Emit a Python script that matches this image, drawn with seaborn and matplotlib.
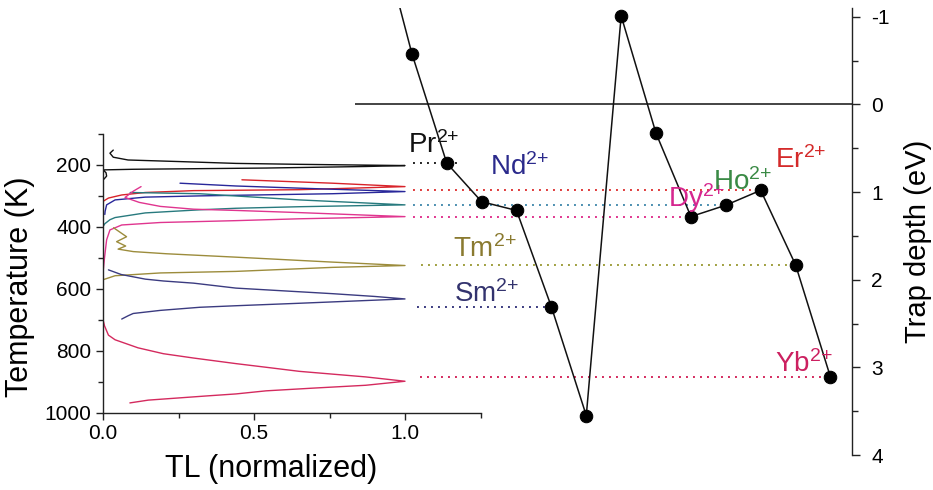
import matplotlib
matplotlib.use("Agg")
import matplotlib.pyplot as plt
from matplotlib.ticker import MultipleLocator
import seaborn as sns

sns.set_style("ticks")
plt.rcParams["font.family"] = ["Liberation Sans", "DejaVu Sans"]
plt.rcParams["mathtext.fontset"] = "custom"
plt.rcParams["mathtext.rm"] = "Liberation Sans"
plt.rcParams["mathtext.it"] = "Liberation Sans:italic"
plt.rcParams["axes.unicode_minus"] = False
plt.rcParams["text.color"] = "black"
plt.rcParams["axes.labelcolor"] = "black"

# ---- trap depths of the divalent lanthanides (eV), La .. Yb ----
ions = ["La", "Ce", "Pr", "Nd", "Pm", "Sm", "Eu", "Gd", "Tb", "Dy", "Ho", "Er", "Tm", "Yb"]
trap_depth = [-2.1, -0.58, 0.67, 1.11, 1.21, 2.31, 3.55, -1.01, 0.33, 1.28, 1.15, 0.98, 1.83, 3.11]

# ---- normalized TL glow curves (TL, temperature K) ----
pr_tl = [0.034, 0.023, 0.034, 0.083, 0.25, 0.44, 0.65, 1.0, 0.87, 0.54, 0.10, 0.0, 0.010, 0.012, 0.003, 0.0]
pr_T = [152, 162, 175, 184, 189, 195, 198, 202, 205, 210, 214, 216, 225, 236, 246, 240]

er_tl = [0.46, 0.76, 1.0, 0.65, 0.30, 0.14, 0.062, 0.018, 0.003]
er_T = [248, 259, 270, 280, 283, 289, 297, 307, 316]

nd_tl = [0.255, 0.44, 0.65, 1.0, 0.76, 0.32, 0.14, 0.04, 0.012, 0.007, 0.006]
nd_T = [259, 268, 275, 286, 293, 300, 304, 313, 329, 350, 360]

ho_tl = [0.09, 0.32, 0.65, 0.85, 1.0, 0.65, 0.44, 0.32, 0.14, 0.10, 0.04, 0.023, 0.006, 0.0]
ho_T = [289, 293, 313, 322, 329, 335, 340, 345, 355, 361, 370, 377, 390, 399]

dy_tl = [0.126, 0.10, 0.073, 0.12, 0.19, 0.30, 0.44, 0.65, 1.0, 0.65, 0.44, 0.19, 0.062, 0.023, 0.012, 0.005, 0.0, 0.0]
dy_T = [270, 285, 305, 321, 334, 343, 347, 354, 367, 374, 380, 386, 394, 410, 442, 500, 549, 600]

tm_tl = [0.035, 0.078, 0.045, 0.075, 0.05, 0.10, 0.21, 0.44, 0.76, 1.0, 0.76, 0.44, 0.19, 0.04, 0.0]
tm_T = [403, 432, 448, 462, 472, 480, 487, 498, 514, 525, 531, 544, 549, 558, 571]

sm_tl = [0.018, 0.06, 0.14, 0.20, 0.30, 0.44, 0.60, 0.76, 0.90, 1.0, 0.65, 0.44, 0.32, 0.19, 0.10, 0.084, 0.062]
sm_T = [539, 554, 569, 575, 582, 598, 607, 616, 625, 633, 647, 655, 660, 670, 680, 687, 698]

yb_tl = [0.0, 0.005, 0.018, 0.04, 0.116, 0.20, 0.30, 0.44, 0.55, 0.65, 0.87, 1.0, 0.87, 0.70, 0.54, 0.44, 0.35, 0.25, 0.15, 0.089]
yb_T = [700, 720, 750, 765, 791, 810, 824, 842, 855, 867, 885, 899, 912, 921, 930, 940, 946, 953, 960, 969]

curves = [
    (pr_tl, pr_T, "#111111"),
    (er_tl, er_T, "#d8232a"),
    (nd_tl, nd_T, "#28279a"),
    (ho_tl, ho_T, "#287a7e"),
    (dy_tl, dy_T, "#e0358f"),
    (tm_tl, tm_T, "#9c8c3c"),
    (sm_tl, sm_T, "#3b3b80"),
    (yb_tl, yb_T, "#d42a5e"),
]

# ion labels and guide lines
label_ions = ["Pr", "Nd", "Tm", "Sm", "Dy", "Ho", "Er", "Yb"]
label_colors = ["#111111", "#2b2a8c", "#8a7a30", "#33336e", "#d6278f", "#3a8a45", "#d42a2a", "#cc2060"]
label_xy = [(0.89, 0.56), (3.24, 0.81), (2.18, 1.74), (2.21, 2.25),
            (8.34, 1.17), (9.63, 0.98), (11.41, 0.73), (11.41, 3.05)]

guide_ions = ["Pr", "Er", "Ho", "Dy", "Tm", "Sm", "Yb"]
guide_colors = ["#222222", "#e03a3a", "#4c8fb0", "#e0358f", "#a0a040", "#3b3b80", "#d42a5e"]
guide_start = [1.03, 1.03, 1.03, 1.03, 1.26, 1.15, 1.23]
guide_over = [0.29, 0, 0, 0, 0.1, 0, 0]

W, H = 933, 490
fig = plt.figure(figsize=(W / 100, H / 100), dpi=100)

# ---- left: glow curves ----
ax = fig.add_axes([103 / W, 1 - 412.5 / H, 377.5 / W, 278.5 / H])
ax.patch.set_alpha(0)
for tl, T, c in curves:
    sns.lineplot(x=tl, y=T, sort=False, estimator=None, color=c, lw=1.0, ax=ax)
ax.set_xlim(0, 1.25)
ax.set_ylim(1000, 100)
ax.xaxis.set_major_locator(MultipleLocator(0.5))
ax.xaxis.set_minor_locator(MultipleLocator(0.25))
ax.yaxis.set_major_locator(MultipleLocator(200))
ax.yaxis.set_minor_locator(MultipleLocator(100))
ax.xaxis.set_major_formatter(plt.FormatStrFormatter("%.1f"))
sns.despine(ax=ax)
for s in ["left", "bottom"]:
    ax.spines[s].set_linewidth(1.0)
    ax.spines[s].set_color("#222222")
ax.tick_params(which="major", length=5, width=1.0, labelsize=15, color="#222222", labelcolor="black")
ax.tick_params(which="minor", length=3.5, width=1.0, color="#222222")
ax.set_xlabel("TL (normalized)", fontsize=22)
ax.set_ylabel("Temperature (K)", fontsize=22)
ax.xaxis.set_label_coords(0.445, -0.15)
ax.yaxis.set_label_coords(-0.18, 0.45)

# ---- right: trap depth ----
ax2 = fig.add_axes([355 / W, 1 - 455 / H, 497 / W, 447 / H])
ax2.patch.set_alpha(0)
idx = list(range(len(ions)))
ax2.axhline(0, color="#111111", lw=1.1)
for ion, c, x0, extra in zip(guide_ions, guide_colors, guide_start, guide_over):
    i = ions.index(ion)
    ax2.plot([x0, i + extra], [trap_depth[i], trap_depth[i]], color=c, lw=1.4,
             dashes=(1, 2.6))
sns.lineplot(x=idx, y=trap_depth, sort=False, estimator=None, color="#111111", lw=1.1,
             marker="o", markersize=9, markeredgecolor="black", markerfacecolor="black", ax=ax2)
for ion, c, (x, y) in zip(label_ions, label_colors, label_xy):
    ax2.text(x, y, ion + r"$^{\mathregular{2{+}}}$", color=c, fontsize=20, ha="left", va="baseline")

ax2.set_xlim(-0.631, 13.618)
ax2.set_ylim(4, -1.1)
ax2.set_xticks([])
ax2.yaxis.tick_right()
ax2.yaxis.set_major_locator(MultipleLocator(1))
ax2.yaxis.set_minor_locator(MultipleLocator(0.5))
for s in ["left", "top", "bottom"]:
    ax2.spines[s].set_visible(False)
ax2.spines["right"].set_visible(True)
ax2.spines["right"].set_linewidth(1.0)
ax2.spines["right"].set_color("#222222")
ax2.tick_params(which="major", length=6, width=1.0, labelsize=15, color="#222222",
                labelcolor="black", pad=8)
ax2.tick_params(which="minor", length=4, width=1.0, color="#222222")
ax2.yaxis.set_label_position("right")
ax2.set_ylabel("Trap depth (eV)", fontsize=21)
ax2.yaxis.set_label_coords(1.105, 0.477)

fig.savefig("out.png", dpi=100)
